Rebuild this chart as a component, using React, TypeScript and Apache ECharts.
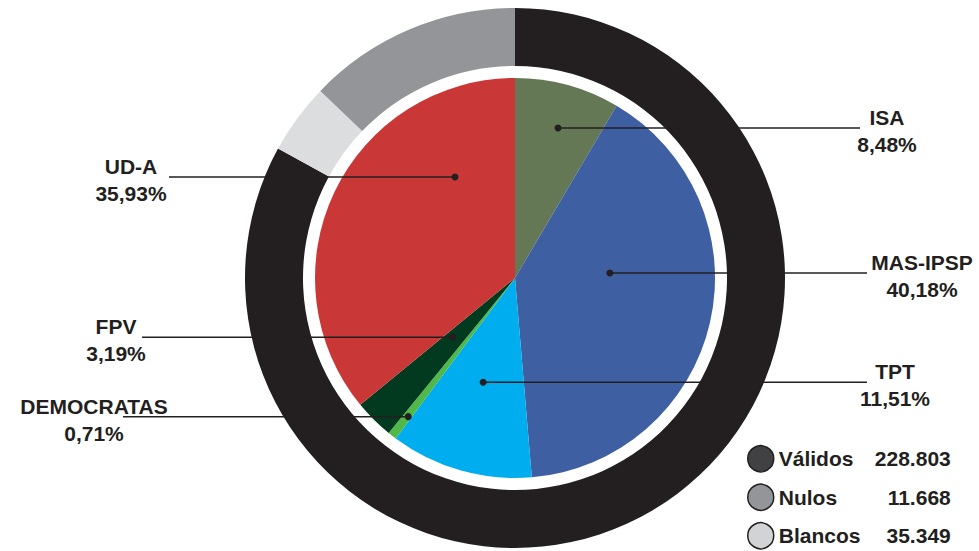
import React, { useEffect, useRef } from 'react';
import * as echarts from 'echarts';

// Party shares of valid votes (inner pie), clockwise from the top
const parties = ['ISA', 'MAS-IPSP', 'TPT', 'DEMOCRATAS', 'FPV', 'UD-A'];
const partyShares = [8.48, 40.18, 11.51, 0.71, 3.19, 35.93];
const partyColors = ['#657856', '#3e5fa2', '#00adee', '#50b848', '#013a1f', '#c93836'];

// Vote types (outer ring)
const voteTypes = ['Válidos', 'Nulos', 'Blancos'];
const voteCounts = [228803, 11668, 35349];
const ringColors = ['#231f20', '#dcddde', '#939598'];
const legendColors = ['#414042', '#939598', '#d1d3d4'];

// Annotation layout (label callouts)
const CX = 515;
const CY = 278;
const anchorAngle = [16, 87, 197, 217.6, 226.4, 329.3];
const anchorRadius = [156, 95, 109, 175, 86, 117.5];
const labelCenterX = [887, 922, 895, 94, 116, 131];
const lineEndX = [860, 867, 867, 123, 142, 169];

const FONT = "'Liberation Sans', Arial, Helvetica, sans-serif";
const INK = '#231f20';

const fmtPct = (v: number) => v.toFixed(2).replace('.', ',') + '%';
const fmtCount = (v: number) => String(v).replace(/\B(?=(\d{3})+(?!\d))/g, '.');

const anchorPoint = (i: number) => {
  const a = (anchorAngle[i] * Math.PI) / 180;
  return [CX + anchorRadius[i] * Math.sin(a), CY - anchorRadius[i] * Math.cos(a)];
};

export default function App() {
  const ref = useRef<HTMLDivElement>(null);
  useEffect(() => {
    if (!ref.current) return;
    const chart = echarts.init(ref.current, null, { renderer: 'svg' });
    const callouts: any[] = [];
    parties.forEach((_, i) => {
      const [x, y] = anchorPoint(i);
      callouts.push({
        type: 'line',
        shape: { x1: x, y1: y, x2: lineEndX[i], y2: y },
        style: { stroke: INK, lineWidth: 1.5 },
        z: 100,
        silent: true,
      });
      callouts.push({
        type: 'circle',
        shape: { cx: x, cy: y, r: 3.5 },
        style: { fill: INK },
        z: 101,
        silent: true,
      });
    });
    chart.setOption({
      animation: false,
      backgroundColor: '#ffffff',
      legend: {
        orient: 'vertical',
        left: 747,
        top: 445,
        padding: 0,
        itemWidth: 26,
        itemHeight: 26,
        itemGap: 11,
        icon: 'circle',
        selectedMode: false,
        data: voteTypes.map((n, i) => ({
          name: n,
          itemStyle: { color: legendColors[i], borderColor: INK, borderWidth: 1.5 },
        })),
        formatter: (name: string) =>
          `{n|${name}}{v|${fmtCount(voteCounts[voteTypes.indexOf(name)])}}`,
        textStyle: {
          rich: {
            n: { width: 92, fontSize: 21, fontWeight: 'bold', color: INK, fontFamily: FONT },
            v: { width: 80, align: 'right', fontSize: 21, fontWeight: 'bold', color: INK, fontFamily: FONT },
          },
        },
      },
      graphic: callouts,
      series: [
        {
          type: 'pie',
          name: 'Votos',
          center: [CX, CY],
          radius: [212, 270],
          startAngle: 90,
          clockwise: true,
          silent: true,
          label: { show: false },
          labelLine: { show: false },
          data: voteTypes.map((n, i) => ({
            name: n,
            value: voteCounts[i],
            itemStyle: { color: ringColors[i] },
          })),
        },
        {
          type: 'pie',
          name: 'Partidos',
          center: [CX, CY],
          radius: [0, 200],
          startAngle: 90,
          clockwise: true,
          silent: true,
          avoidLabelOverlap: false,
          label: {
            show: true,
            position: 'outside',
            formatter: (p: any) => `{n|${p.name}}\n{p|${fmtPct(p.value)}}`,
            rich: {
              n: { fontSize: 21, fontWeight: 'bold', color: INK, fontFamily: FONT, lineHeight: 27, align: 'center' },
              p: { fontSize: 21, fontWeight: 'bold', color: INK, fontFamily: FONT, lineHeight: 27, align: 'center' },
            },
          },
          labelLine: { show: false },
          labelLayout: (params: any) => {
            const i = params.dataIndex;
            const [, y] = anchorPoint(i);
            return {
              x: labelCenterX[i],
              y: y + 3,
              align: 'center',
              verticalAlign: 'middle',
              hideOverlap: false,
            };
          },
          data: parties.map((n, i) => ({
            name: n,
            value: partyShares[i],
            itemStyle: { color: partyColors[i] },
          })),
        },
      ],
    });
    return () => chart.dispose();
  }, []);
  return (
    <div
      ref={ref}
      style={{ position: 'fixed', left: 0, top: 0, width: 979, height: 551, background: '#fff' }}
    />
  );
}
